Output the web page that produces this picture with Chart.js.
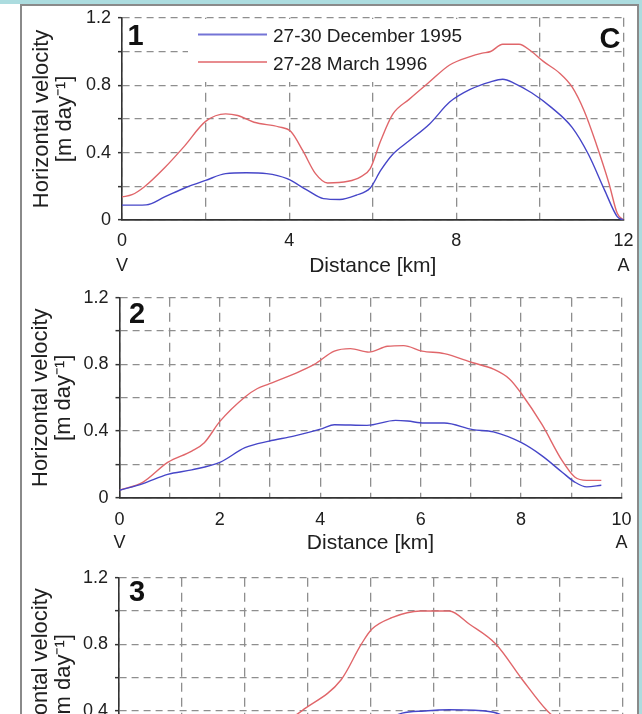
<!DOCTYPE html>
<html>
<head>
<meta charset="utf-8">
<script src="https://cdn.jsdelivr.net/npm/chart.js@4.4.1/dist/chart.umd.min.js"></script>
<style>
html,body{margin:0;padding:0;width:642px;height:714px;overflow:hidden;background:#fff;}
#bandTop{position:absolute;left:0;top:0;width:642px;height:4px;background:#acdcdf;}
#bandRight{position:absolute;left:639px;top:0;width:3px;height:714px;background:#acdcdf;}
#frame{position:absolute;left:20px;top:4px;width:615px;height:800px;border:2px solid #8a8a8a;border-bottom:none;}
canvas{position:absolute;left:0;}
</style>
</head>
<body>
<div id="bandTop"></div><div id="bandRight"></div><div id="frame"></div>
<canvas id="c1" width="642" height="280" style="top:0px;width:642px;height:280px"></canvas>
<canvas id="c2" width="642" height="280" style="top:280px;width:642px;height:280px"></canvas>
<canvas id="c3" width="642" height="280" style="top:560px;width:642px;height:280px"></canvas>
<script>
// ---------------- data ----------------
const SERIES_LABELS = ['27-30 December 1995', '27-28 March 1996'];
const Y_TITLE = ['Horizontal velocity', '[m day\u207B\u00B9]'];
const X_TITLE = 'Distance [km]';
const END_LABELS = ['V', 'A'];
const PANEL_NAMES = ['1', '2', '3'];
const FIGURE_LETTER = 'C';

// Panel 1 (0-12 km)
const p1DecKm  = [0, 0.58, 1.02, 1.5, 2.0, 2.48, 2.97, 3.46, 3.95, 4.43, 4.82, 5.21, 5.6, 5.94, 6.19, 6.48, 6.87, 7.36, 7.84, 8.33, 8.82, 9.11, 9.4, 9.8, 10.28, 10.77, 11.16, 11.55, 11.85, 12];
const p1DecVel = [0.088, 0.09, 0.137, 0.19, 0.235, 0.275, 0.28, 0.275, 0.245, 0.177, 0.127, 0.122, 0.147, 0.19, 0.294, 0.39, 0.47, 0.57, 0.70, 0.775, 0.82, 0.835, 0.81, 0.755, 0.667, 0.55, 0.39, 0.176, 0.02, 0];
const p1MarKm  = [0, 0.24, 0.53, 1.02, 1.5, 2.0, 2.48, 2.77, 3.16, 3.75, 4.04, 4.33, 4.63, 4.92, 5.41, 5.7, 5.94, 6.19, 6.48, 6.87, 7.36, 7.84, 8.33, 8.62, 8.82, 9.11, 9.5, 9.8, 10.09, 10.48, 10.77, 11.06, 11.35, 11.65, 11.85, 12];
const p1MarVel = [0.137, 0.15, 0.196, 0.31, 0.44, 0.585, 0.63, 0.62, 0.58, 0.553, 0.525, 0.41, 0.275, 0.22, 0.23, 0.255, 0.305, 0.47, 0.628, 0.716, 0.82, 0.92, 0.97, 0.99, 1.0, 1.043, 1.043, 1.0, 0.94, 0.87, 0.79, 0.647, 0.45, 0.22, 0.04, 0];

// Panel 2 (0-10 km)
const p2DecKm  = [0, 0.47, 0.96, 1.44, 2.0, 2.5, 2.98, 3.47, 4.04, 4.28, 4.93, 5.5, 5.74, 6.07, 6.47, 7.04, 7.45, 8.01, 8.42, 8.82, 9.07, 9.31, 9.6];
const p2DecVel = [0.045, 0.085, 0.14, 0.167, 0.212, 0.3, 0.34, 0.37, 0.415, 0.438, 0.434, 0.464, 0.46, 0.448, 0.448, 0.409, 0.395, 0.33, 0.251, 0.153, 0.094, 0.065, 0.075];
const p2MarKm  = [0, 0.47, 0.96, 1.44, 1.69, 2.0, 2.5, 2.74, 2.98, 3.47, 3.88, 4.28, 4.6, 4.97, 5.34, 5.66, 6.03, 6.47, 7.04, 7.45, 7.77, 8.01, 8.42, 8.82, 9.07, 9.31, 9.6];
const p2MarVel = [0.045, 0.094, 0.212, 0.28, 0.33, 0.458, 0.605, 0.654, 0.683, 0.742, 0.80, 0.88, 0.895, 0.874, 0.909, 0.913, 0.88, 0.865, 0.81, 0.772, 0.713, 0.624, 0.438, 0.222, 0.124, 0.104, 0.104];

// Panel 3 (only upper part visible)
const p3DecKm  = [8.0, 9.0, 9.7, 10.5, 11.3, 11.9, 12.8];
const p3DecVel = [0.30, 0.385, 0.398, 0.405, 0.402, 0.39, 0.32];
const p3MarKm  = [5.3, 5.82, 7.06, 7.70, 8.03, 8.67, 9.58, 10.49, 11.14, 11.98, 12.82, 13.6, 14.1];
const p3MarVel = [0.33, 0.40, 0.586, 0.80, 0.89, 0.96, 1.0, 1.0, 0.92, 0.80, 0.586, 0.40, 0.32];

// axis ranges / ticks
const Y_MAX = 1.2, Y_STEP = 0.2, Y_LABEL_EVERY = 0.4;
const X_MAX = [12, 10, 16];
const X_STEP = [2, 1, 2];
const X_LABEL_EVERY = [4, 2, 4];

// ---------------- styling ----------------
const FONT = "'Liberation Sans', Arial, Helvetica, sans-serif";
const BLUE = '#4646c8';
const RED = '#e0666a';
const TXT = '#202020';

function pts(xs, ys) { return xs.map((x, i) => ({x: x, y: ys[i]})); }

function yLabel(v) {
  const r = Math.round(v * 10);
  if (r % Math.round(Y_LABEL_EVERY * 10) !== 0) return '';
  return r === 0 ? '0' : (r / 10).toFixed(1);
}
function xLabelFn(max, every) {
  return function (v) {
    const r = Math.round(v * 1000) / 1000;
    const q = r / every;
    if (Math.abs(q - Math.round(q)) > 1e-6) return '';
    if (r === 0) return ['0', END_LABELS[0]];
    if (r === max) return [String(max), END_LABELS[1]];
    return String(r);
  };
}

function insetLegendPlugin(cfg) {
  return {
    id: 'insetLegend',
    beforeDatasetsDraw(chart) {
      if (!cfg) return;
      const ctx = chart.ctx;
      ctx.save();
      ctx.fillStyle = '#ffffff';
      ctx.fillRect(cfg.box[0], cfg.box[1], cfg.box[2], cfg.box[3]);
      ctx.restore();
    },
    afterDatasetsDraw(chart) {
      if (!cfg) return;
      const ctx = chart.ctx;
      ctx.save();
      chart.data.datasets.forEach((ds, i) => {
        const ly = cfg.lineY[i];
        ctx.globalAlpha = 0.75;
        ctx.strokeStyle = ds.borderColor;
        ctx.lineWidth = 2;
        ctx.beginPath();
        ctx.moveTo(cfg.lineX[0], ly);
        ctx.lineTo(cfg.lineX[1], ly);
        ctx.stroke();
        ctx.globalAlpha = 1;
        ctx.fillStyle = TXT;
        ctx.font = '19px ' + FONT;
        ctx.textAlign = 'left';
        ctx.textBaseline = 'alphabetic';
        ctx.fillText(ds.label, cfg.textX, cfg.textBase[i]);
      });
      ctx.restore();
    }
  };
}

function panelLabelPlugin(items) {
  return {
    id: 'panelLabels',
    afterDraw(chart) {
      const ctx = chart.ctx;
      ctx.save();
      ctx.fillStyle = '#111';
      ctx.textAlign = 'center';
      ctx.textBaseline = 'alphabetic';
      items.forEach(it => {
        ctx.font = 'bold ' + it.size + 'px ' + FONT;
        ctx.fillText(it.text, it.x, it.y);
      });
      ctx.restore();
    }
  };
}

function makeChart(id, idx, dec, mar, p) {
  const cfg = {
    type: 'line',
    data: {
      datasets: [
        {label: SERIES_LABELS[0], data: dec, borderColor: BLUE, borderWidth: 1.4, pointRadius: 0, fill: false, cubicInterpolationMode: 'monotone'},
        {label: SERIES_LABELS[1], data: mar, borderColor: RED, borderWidth: 1.4, pointRadius: 0, fill: false, cubicInterpolationMode: 'monotone'}
      ]
    },
    options: {
      responsive: false,
      animation: false,
      devicePixelRatio: 1,
      events: [],
      layout: {padding: p.pad},
      plugins: {legend: {display: false}, tooltip: {enabled: false}},
      scales: {
        x: {
          type: 'linear', min: 0, max: X_MAX[idx],
          afterFit: s => { s.height = p.xH; },
          ticks: {
            stepSize: X_STEP[idx], autoSkip: false, maxRotation: 0, minRotation: 0,
            padding: p.xTickPad, color: TXT,
            font: {family: FONT, size: 18, lineHeight: p.xTickLH},
            callback: xLabelFn(X_MAX[idx], X_LABEL_EVERY[idx])
          },
          grid: {color: '#8e8e8e', lineWidth: 1.3, drawTicks: false},
          border: {display: true, color: '#333', width: 1.8, dash: [9, 6]},
          title: {display: true, text: X_TITLE, color: TXT, font: {family: FONT, size: 21, lineHeight: 1.2}, padding: {top: 0, bottom: 0}}
        },
        y: {
          type: 'linear', min: 0, max: Y_MAX,
          afterFit: s => { s.width = p.yW; },
          ticks: {stepSize: Y_STEP, autoSkip: false, padding: 7, color: TXT, font: {family: FONT, size: 18}, callback: yLabel},
          grid: {color: '#8e8e8e', lineWidth: 1.3, drawTicks: true, tickLength: 4, tickColor: '#333', tickWidth: 1.5, tickBorderDash: []},
          border: {display: true, color: '#333', width: 1.6, dash: [7, 5]},
          title: {display: true, text: Y_TITLE, color: TXT, font: {family: FONT, size: 22, lineHeight: 1.07}, padding: {top: p.yTitlePad, bottom: 0}}
        }
      }
    },
    plugins: [insetLegendPlugin(p.legend), panelLabelPlugin(p.labels)]
  };
  return new Chart(document.getElementById(id), cfg);
}

makeChart('c1', 0, pts(p1DecKm, p1DecVel), pts(p1MarKm, p1MarVel), {
  pad: {top: 16.7, right: 17, bottom: 1.4, left: 0},
  xH: 58.6, xTickPad: 8.5, xTickLH: 1.4, yW: 122, yTitlePad: 30,
  legend: {box: [188, 19, 327, 63], lineX: [198, 267], lineY: [34.5, 62], textX: 273, textBase: [42.3, 70]},
  labels: [{text: PANEL_NAMES[0], x: 135.5, y: 45, size: 29}, {text: FIGURE_LETTER, x: 610, y: 48, size: 29}]
});
makeChart('c2', 1, pts(p2DecKm, p2DecVel), pts(p2MarKm, p2MarVel), {
  pad: {top: 14, right: 17, bottom: 4.1, left: 0},
  xH: 58.2, xTickPad: 10.6, xTickLH: 1.3, yW: 119.5, yTitlePad: 29,
  legend: null,
  labels: [{text: PANEL_NAMES[1], x: 137, y: 43, size: 29}]
});
makeChart('c3', 2, pts(p3DecKm, p3DecVel), pts(p3MarKm, p3MarVel), {
  pad: {top: 13, right: 17.5, bottom: 4.4, left: 0},
  xH: 58.6, xTickPad: 9.5, xTickLH: 1.35, yW: 119, yTitlePad: 29,
  legend: null,
  labels: [{text: PANEL_NAMES[2], x: 137, y: 41, size: 29}]
});
</script>
</body>
</html>
